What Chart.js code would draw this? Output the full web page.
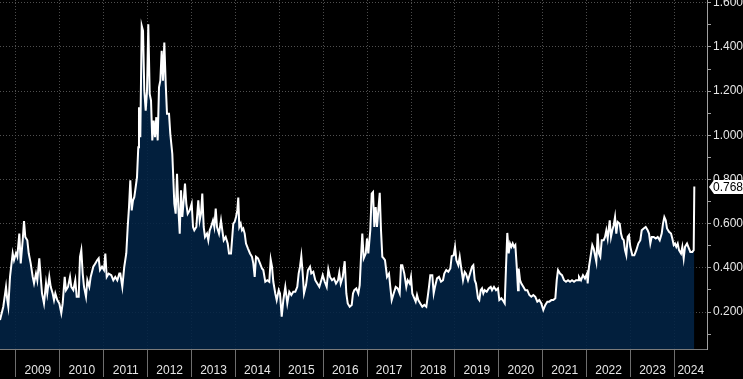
<!DOCTYPE html>
<html><head><meta charset="utf-8">
<script src="https://cdn.jsdelivr.net/npm/chart.js@4/dist/chart.umd.min.js"></script>
<style>html,body{margin:0;padding:0;background:#000;overflow:hidden}#wrap{position:relative;width:743px;height:379px}</style>
</head><body><div id="wrap"><canvas id="c"></canvas></div>
<script>
// Time (decimal years) and values
const dates = [
2008.636,2008.711,2008.773,2008.802,2008.825,2008.864,2008.925,2008.955,2009.000,2009.030,
2009.076,2009.108,2009.153,2009.183,2009.212,2009.258,2009.290,2009.335,2009.381,2009.411,
2009.456,2009.486,2009.531,2009.563,2009.593,2009.638,2009.684,2009.713,2009.759,2009.791,
2009.836,2009.866,2009.896,2009.941,2009.987,2010.032,2010.064,2010.110,2010.139,2010.185,
2010.231,2010.260,2010.306,2010.351,2010.383,2010.429,2010.458,2010.488,2010.520,2010.550,
2010.595,2010.625,2010.670,2010.702,2010.761,2010.807,2010.852,2010.884,2010.914,2010.960,
2011.005,2011.035,2011.067,2011.112,2011.171,2011.217,2011.262,2011.308,2011.354,
2011.376,2011.422,2011.467,2011.513,2011.545,2011.575,2011.604,2011.636,2011.666,2011.695,
2011.727,2011.757,2011.786,2011.802,2011.832,2011.864,2011.894,2011.923,2011.955,2011.985,
2012.014,2012.046,2012.076,2012.105,2012.137,2012.167,2012.196,2012.228,2012.258,2012.288,
2012.319,2012.349,2012.379,2012.411,2012.440,2012.486,2012.515,2012.561,2012.607,2012.638,
2012.668,2012.698,2012.730,2012.759,2012.789,2012.821,2012.850,2012.880,2012.912,2012.957,
2013.003,2013.033,2013.062,2013.108,2013.153,2013.185,2013.215,2013.244,2013.276,2013.306,
2013.351,2013.381,2013.413,2013.443,2013.488,2013.518,2013.550,2013.579,2013.625,2013.670,
2013.700,2013.732,2013.777,2013.823,2013.853,2013.898,
2013.950,2013.982,2014.012,2014.042,2014.064,2014.087,2014.119,2014.149,2014.178,2014.210,
2014.240,2014.285,2014.331,2014.376,2014.406,2014.438,2014.468,2014.513,2014.559,2014.604,
2014.634,2014.679,2014.725,2014.770,2014.802,2014.832,2014.862,2014.907,2014.939,2014.985,
2015.014,2015.053,2015.090,2015.135,2015.181,2015.226,2015.272,2015.317,2015.363,2015.408,
2015.440,2015.470,2015.500,2015.531,2015.561,2015.607,2015.652,2015.698,2015.727,2015.773,
2015.818,2015.864,2015.910,2015.955,2015.987,2016.033,2016.078,2016.115,2016.153,2016.199,
2016.244,2016.290,2016.336,2016.365,2016.397,2016.443,2016.488,2016.525,2016.557,2016.602,
2016.648,2016.677,2016.707,2016.752,2016.798,2016.830,2016.860,2016.889,2016.921,2016.967,
2016.996,2017.026,2017.071,2017.103,2017.133,2017.163,2017.194,2017.224,2017.254,2017.286,
2017.315,2017.345,2017.377,2017.406,2017.452,2017.497,2017.527,2017.559,2017.604,2017.650,
2017.696,2017.741,2017.771,2017.800,2017.846,2017.891,2017.923,2017.969,2017.998,2018.028,
2018.060,2018.105,2018.135,2018.165,2018.210,2018.256,2018.301,2018.347,2018.379,2018.408,
2018.438,2018.484,2018.515,2018.545,2018.591,2018.636,2018.682,2018.727,2018.757,2018.802,
2018.848,2018.894,2018.926,2018.971,2019.001,2019.031,2019.076,2019.108,2019.138,2019.183,
2019.222,2019.251,2019.297,2019.343,2019.388,2019.418,2019.450,2019.479,2019.525,2019.554,
2019.586,2019.616,2019.646,2019.677,2019.723,2019.768,2019.814,2019.844,2019.889,2019.935,
2019.980,2020.010,2020.056,2020.087,2020.133,2020.163,2020.192,2020.224,2020.254,2020.284,
2020.315,2020.345,2020.375,2020.407,2020.436,2020.452,2020.482,2020.512,2020.557,2020.603,
2020.648,2020.694,2020.739,2020.785,2020.830,2020.876,2020.921,2020.967,2021.012,2021.058,
2021.104,2021.149,2021.195,2021.240,2021.286,2021.318,2021.347,2021.393,2021.438,2021.484,
2021.529,2021.575,2021.621,2021.666,2021.712,2021.757,2021.803,
2021.825,2021.871,2021.916,2021.962,2022.008,2022.023,2022.053,2022.099,2022.128,2022.160,
2022.190,2022.220,2022.251,2022.281,2022.311,2022.343,2022.388,2022.418,2022.448,2022.479,
2022.525,2022.554,2022.584,2022.616,2022.646,2022.675,2022.707,2022.753,2022.782,2022.812,
2022.844,2022.873,2022.903,2022.935,2022.964,2022.994,2023.040,2023.085,2023.131,2023.176,
2023.222,2023.254,2023.299,2023.345,2023.390,2023.420,2023.450,2023.482,2023.527,2023.573,
2023.618,2023.664,2023.709,2023.739,2023.769,2023.801,2023.830,2023.876,2023.921,2023.951,
2023.983,2024.012,2024.042,2024.074,2024.104,2024.149,2024.179,2024.210,2024.240,2024.286,
2024.315,2024.361,2024.406,2024.438,2024.452
];
const values = [
0.164,0.224,0.314,0.254,0.224,0.359,0.466,0.435,0.466,0.45,
0.555,0.42,0.525,0.612,0.54,0.525,0.466,0.42,0.359,0.33,
0.374,0.344,0.443,0.359,0.284,0.239,0.33,0.284,0.359,0.314,
0.284,0.254,0.284,0.254,0.239,0.195,0.239,0.359,0.299,0.314,
0.359,0.314,0.299,0.344,0.269,0.269,0.45,0.48,0.374,0.314,
0.269,0.344,0.314,0.359,0.405,0.42,0.435,0.443,0.39,0.405,
0.39,0.465,0.359,0.374,0.367,0.344,0.359,0.344,0.374,
0.374,0.314,0.405,0.466,0.585,0.675,0.796,0.66,0.706,0.72,
0.766,0.811,0.946,1.127,0.991,1.496,1.473,1.202,1.112,1.202,
1.503,1.187,1.157,0.977,1.067,0.991,1.082,0.977,1.217,1.247,
1.383,1.247,1.42,1.232,1.097,1.097,1.007,0.916,0.69,0.645,
0.826,0.675,0.555,0.751,0.63,0.706,0.781,0.69,0.645,0.66,
0.69,0.585,0.57,0.585,0.706,0.615,0.645,0.736,0.585,0.54,
0.555,0.525,0.57,0.585,0.615,0.585,0.668,0.585,0.555,0.615,
0.57,0.525,0.54,0.51,0.465,0.465,
0.6,0.608,0.63,0.66,0.718,0.585,0.6,0.57,0.578,0.555,
0.51,0.487,0.465,0.45,0.42,0.359,0.45,0.443,0.42,0.397,
0.39,0.337,0.344,0.337,0.438,0.405,0.337,0.284,0.254,0.299,
0.284,0.179,0.254,0.314,0.239,0.292,0.277,0.292,0.292,0.314,
0.375,0.405,0.453,0.375,0.284,0.322,0.39,0.405,0.375,0.382,
0.344,0.329,0.314,0.344,0.367,0.337,0.314,0.393,0.359,0.344,
0.352,0.329,0.344,0.378,0.329,0.359,0.43,0.284,0.239,0.224,
0.232,0.284,0.299,0.307,0.284,0.322,0.45,0.555,0.443,0.465,
0.533,0.465,0.57,0.736,0.743,0.585,0.675,0.585,0.66,0.74,
0.57,0.45,0.443,0.435,0.359,0.374,0.314,0.254,0.284,0.314,
0.307,0.284,0.412,0.412,0.374,0.314,0.344,0.329,0.359,0.284,
0.269,0.247,0.277,0.254,0.239,0.224,0.232,0.224,0.269,0.314,
0.367,0.367,0.284,0.314,0.352,0.359,0.337,0.344,0.374,0.39,
0.382,0.397,0.453,0.457,0.495,0.435,0.412,0.45,0.405,0.344,
0.382,0.374,0.344,0.374,0.405,0.412,0.344,0.329,0.262,0.254,
0.299,0.307,0.284,0.299,0.292,0.307,0.314,0.299,0.314,0.299,
0.307,0.254,0.262,0.254,0.239,0.405,0.558,0.465,0.51,0.495,
0.51,0.495,0.503,0.405,0.299,0.397,0.344,0.329,0.314,0.299,
0.299,0.277,0.269,0.277,0.269,0.247,0.254,0.239,0.209,0.232,
0.247,0.247,0.254,0.254,0.262,0.344,0.39,0.374,0.367,0.344,
0.337,0.344,0.337,0.344,0.337,0.344,0.344,
0.359,0.344,0.367,0.352,0.374,0.329,0.405,0.465,0.503,0.487,
0.457,0.427,0.555,0.465,0.45,0.525,0.525,0.54,0.57,0.533,
0.615,0.54,0.57,0.593,0.63,0.555,0.608,0.6,0.555,0.533,
0.525,0.48,0.457,0.54,0.548,0.495,0.457,0.457,0.48,0.51,
0.525,0.57,0.578,0.585,0.57,0.555,0.51,0.54,0.54,0.533,
0.54,0.525,0.555,0.6,0.63,0.615,0.578,0.563,0.555,0.533,
0.503,0.51,0.495,0.51,0.48,0.465,0.495,0.443,0.495,0.51,
0.495,0.472,0.472,0.48,0.768
];
const years = [2009,2010,2011,2012,2013,2014,2015,2016,2017,2018,2019,2020,2021,2022,2023,2024];
const yMajorTicks = [0.2,0.4,0.6,0.8,1.0,1.2,1.4,1.6];
const yMinorTicks = [0.1,0.3,0.5,0.7,0.9,1.1,1.3,1.5];
const xMin = 2008.636, xMax = 2024.741;
const yMin = 0.0326, yMax = 1.6125;

const FONT = "'Liberation Sans', Arial, sans-serif";
Chart.defaults.font.family = FONT;
const isMajor = v => v !== undefined && yMajorTicks.some(m => Math.abs(m - v) < 1e-6);
const isBoundary = v => v !== undefined && years.includes(v);

const lastValueBox = {
  id: 'lastValueBox',
  afterDraw(chart) {
    const {ctx, chartArea, scales: {y}} = chart;
    const v = values[values.length - 1];
    const py = Math.round(y.getPixelForValue(v));
    const x0 = chartArea.right + 2;
    ctx.save();
    ctx.fillStyle = '#ffffff';
    ctx.beginPath();
    ctx.moveTo(x0, py);
    ctx.lineTo(x0 + 5, py - 7);
    ctx.lineTo(chart.width, py - 7);
    ctx.lineTo(chart.width, py + 7);
    ctx.lineTo(x0 + 5, py + 7);
    ctx.closePath();
    ctx.fill();
    ctx.fillStyle = '#000000';
    ctx.font = '12px ' + FONT;
    ctx.textBaseline = 'middle';
    ctx.textAlign = 'left';
    ctx.fillText(v.toFixed(3), x0 + 4, py + 0.5);
    ctx.restore();
  }
};

new Chart(document.getElementById('c'), {
  type: 'line',
  data: {
    datasets: [{
      data: dates.map((d, i) => ({x: d, y: values[i]})),
      borderColor: '#ffffff',
      borderWidth: 2,
      backgroundColor: 'rgba(2,35,70,0.88)',
      fill: 'start',
      pointRadius: 0,
      tension: 0
    }]
  },
  options: {
    responsive: true,
    maintainAspectRatio: false,
    animation: false,
    devicePixelRatio: 1,
    layout: {padding: 0},
    plugins: {legend: {display: false}, tooltip: {enabled: false}},
    scales: {
      x: {
        type: 'linear', position: 'bottom', min: xMin, max: xMax, offset: false,
        afterBuildTicks: s => {
          const t = [];
          years.forEach(yr => { if (yr >= xMin && yr <= xMax) t.push({value: yr}); });
          years.forEach(yr => {
            const a = Math.max(yr, xMin), b = Math.min(yr + 1, xMax);
            if (b - a > 0.5) t.push({value: (a + b) / 2, yearLabel: String(yr)});
          });
          t.sort((p, q) => p.value - q.value);
          s.ticks = t;
        },
        afterFit: s => { s.height = 30; s.paddingLeft = 0; s.paddingRight = 0; },
        ticks: {
          autoSkip: false, maxRotation: 0, minRotation: 0, padding: -14,
          color: '#e6e6e6', font: {size: 12},
          callback: (v, i, ticks) => ticks[i].yearLabel || ''
        },
        grid: {
          color: c => isBoundary(c.tick && c.tick.value) ? '#4c4c4c' : 'rgba(0,0,0,0)',
          tickColor: c => isBoundary(c.tick && c.tick.value) ? '#6e6e6e' : 'rgba(0,0,0,0)',
          tickLength: 28, lineWidth: 1, tickBorderDash: [], drawTicks: true
        },
        border: {display: true, color: '#7a7a7a', width: 1, dash: [1, 2]}
      },
      y: {
        type: 'linear', position: 'right', min: yMin, max: yMax,
        afterBuildTicks: s => {
          s.ticks = yMinorTicks.concat(yMajorTicks).sort((a, b) => a - b).map(v => ({value: v}));
        },
        afterFit: s => { s.width = 36; s.paddingTop = 0; s.paddingBottom = 0; },
        ticks: {
          autoSkip: false, padding: 2, color: '#e6e6e6', font: {size: 12},
          callback: v => isMajor(v) ? v.toFixed(3) : ''
        },
        grid: {
          color: c => isMajor(c.tick && c.tick.value) ? '#505050' : 'rgba(0,0,0,0)',
          tickColor: '#a0a0a0', tickLength: 4, lineWidth: 1, tickBorderDash: []
        },
        border: {display: true, color: '#a0a0a0', width: 1, dash: [1, 2]}
      }
    }
  },
  plugins: [lastValueBox]
});
</script>
</body></html>
